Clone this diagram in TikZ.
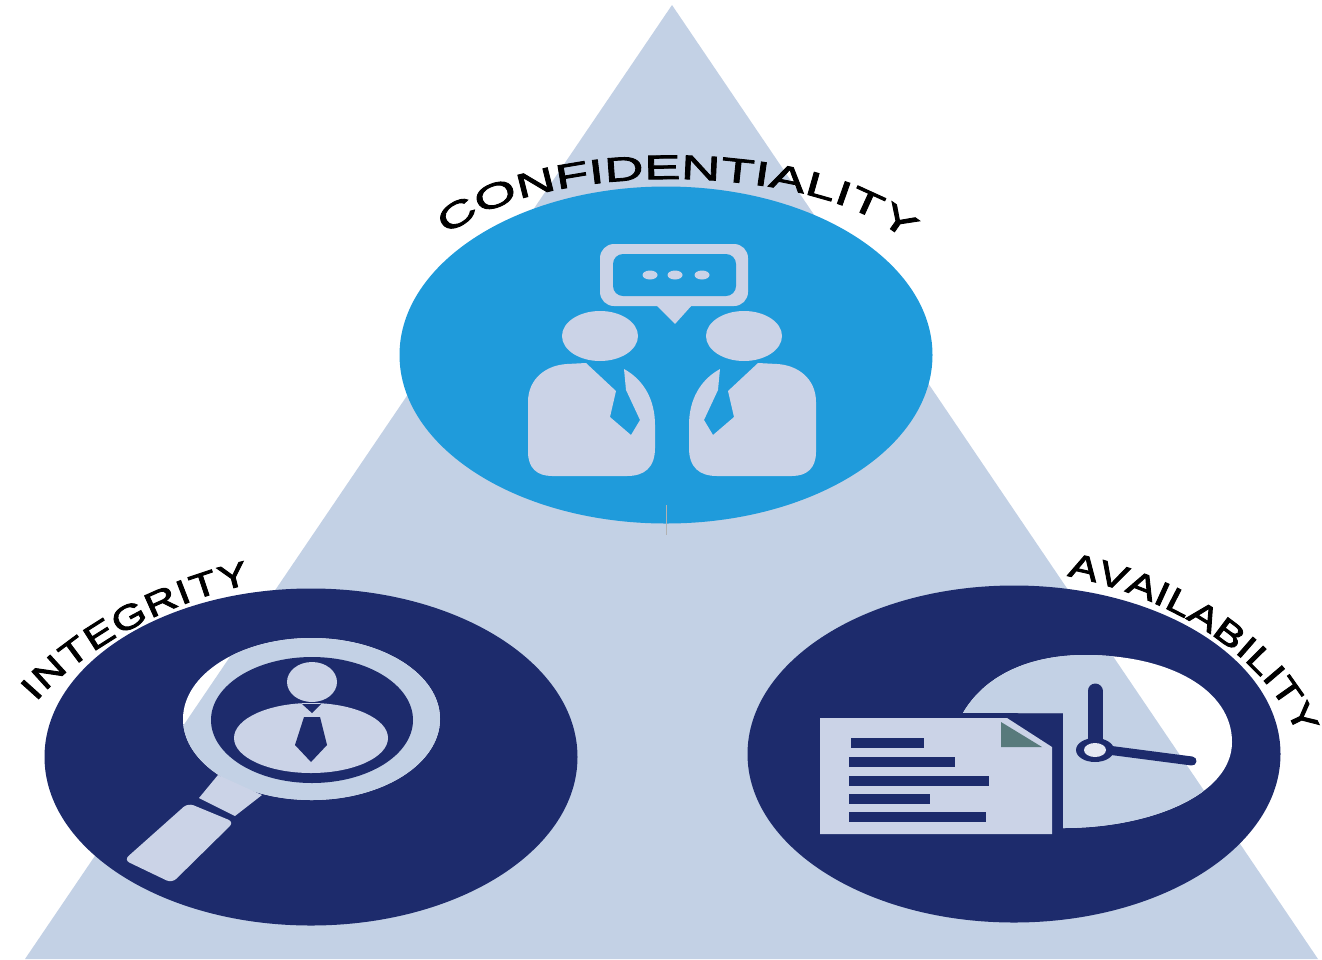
\documentclass[tikz,border=0pt]{standalone}
\usepackage{fontspec}
\usetikzlibrary{shapes.geometric,decorations.text}
\newfontfamily\widefont[FakeStretch=1.6,FakeBold=2.6]{Liberation Sans}
\newfontfamily\halffont[FakeStretch=1.3,FakeBold=2.6]{Liberation Sans}
\definecolor{triacolor}{HTML}{C3D1E5}
\definecolor{iconcolor}{HTML}{CBD3E7}
\definecolor{skycolor}{HTML}{1F9BDB}
\definecolor{navycolor}{HTML}{1D2B6C}
\definecolor{foldcolor}{HTML}{587A7C}
\newcommand{\triapath}{(672,5) -- (25,959) -- (1318,959) -- cycle}
\tikzset{
  disc/.style = {ellipse, minimum width=533pt, minimum height=337pt, inner sep=0pt},
  curved/.style = {decorate, decoration={text along path, text align=fit to path, text={#1}}}
}

\begin{document}
\begin{tikzpicture}[x=1pt,y=-1pt]
\useasboundingbox (0,0) rectangle (1322,959);
\fill[triacolor] \triapath;
\coordinate (seamtop) at (666,505);
\coordinate (seamend) at (666,535);

\node[disc,fill=skycolor] (confdisc) at (666,355) {};
\node[disc,fill=navycolor] (integdisc) at (311,757) {};
\node[disc,fill=navycolor] (availdisc) at (1014,754) {};
\draw[gray!60,thin] (seamtop) -- (seamend);

% speech bubble
\fill[iconcolor,rounded corners=14pt] (600,244) rectangle (748,306);
\fill[iconcolor] (655,304) -- (693,304) -- (675,324) -- cycle;
\fill[skycolor,rounded corners=10pt] (613,254) rectangle (736,296);
\foreach \x in {650,675,702}
  \fill[iconcolor] (\x,275) ellipse (7.5pt and 4.5pt);

% two persons
\foreach \m in {1,-1} {
  \begin{scope}[xshift=672pt,xscale=\m]
  \fill[iconcolor] (-72,336) ellipse (38pt and 25pt);
  \fill[iconcolor] (-120,476) .. controls (-135,476) and (-144,468) .. (-144,452) -- (-144,402)
    .. controls (-144,378) and (-125,365) .. (-105,364) -- (-86,363) -- (-56,391) -- (-62,417)
    -- (-41,435) -- (-32,420) -- (-46,390) -- (-48,369)
    .. controls (-28,380) and (-17,400) .. (-17,425) -- (-17,448)
    .. controls (-17,468) and (-28,476) .. (-45,476) -- cycle;
  \end{scope}
}

% magnifier
\fill[white] (311.5,719) ellipse (128.5pt and 81pt);
\begin{scope}
  \clip (311.5,719) ellipse (128.5pt and 81pt);
  \fill[triacolor] \triapath;
\end{scope}
\fill[iconcolor] (218,775) -- (262,795) -- (235,816) -- (199,798) -- cycle;
\fill[iconcolor,rounded corners=6pt] (188,803) -- (234,822) -- (172,883) -- (124,860) -- cycle;
\fill[navycolor] (312,720) ellipse (101pt and 63pt);
\fill[iconcolor] (312,682) ellipse (25pt and 20pt);
\fill[iconcolor] (311,738) ellipse (77pt and 35pt);
\fill[navycolor] (302,704) -- (321,704) -- (312,713) -- cycle;
\fill[navycolor] (304,717) -- (320,717) -- (327,745) -- (311,762) -- (295,745) -- cycle;

% clock behind the sheet
\fill[white] (963,713) .. controls (985,675) and (1030,655) .. (1085,655)
  .. controls (1170,655) and (1232,690) .. (1232,742)
  .. controls (1232,795) and (1150,828) .. (1063,828) -- (1063,713) -- cycle;
\begin{scope}
  \clip (963,713) .. controls (985,675) and (1030,655) .. (1085,655)
    .. controls (1170,655) and (1232,690) .. (1232,742)
    .. controls (1232,795) and (1150,828) .. (1063,828) -- (1063,713) -- cycle;
  \fill[triacolor] \triapath;
\end{scope}
\fill[navycolor] (955,713) -- (1017,713) -- (1062,738) -- (1062,834) -- (955,834) -- cycle;
\fill[iconcolor] (820,718) -- (1007,718) -- (1052,747) -- (1052,834) -- (820,834) -- cycle;
\fill[foldcolor] (1001,722) -- (1001,747) -- (1042,747) -- cycle;
\foreach \a/\b/\c in {851/924/738,849/955/757,849/989/776,849/930/794,849/986/812}
  \fill[navycolor] (\a,\c) rectangle (\b,\c+9.5);
\draw[navycolor,line width=15pt,line cap=round] (1095,745) -- (1095,691);
\draw[navycolor,line width=9pt,line cap=round] (1100,749) -- (1192,761);
\fill[navycolor] (1095,750) ellipse (19pt and 12pt);
\fill[iconcolor!50!white] (1095,750) ellipse (11pt and 7pt);

% curved labels
\path[curved={|\widefont\fontsize{34}{34}\selectfont|CONFIDENTIALITY}]
  (447,236) .. controls (535,160) and (805,160) .. (900,236);
\path[curved={|\halffont\fontsize{34}{34}\selectfont|INTEGRITY}]
  (36,702) .. controls (80,650) and (170,601) .. (250,584);
\path[curved={|\halffont\fontsize{34}{34}\selectfont|AVAILABILITY}]
  (1067,576) .. controls (1172,596) and (1268,658) .. (1298,736);
\end{tikzpicture}
\end{document}
